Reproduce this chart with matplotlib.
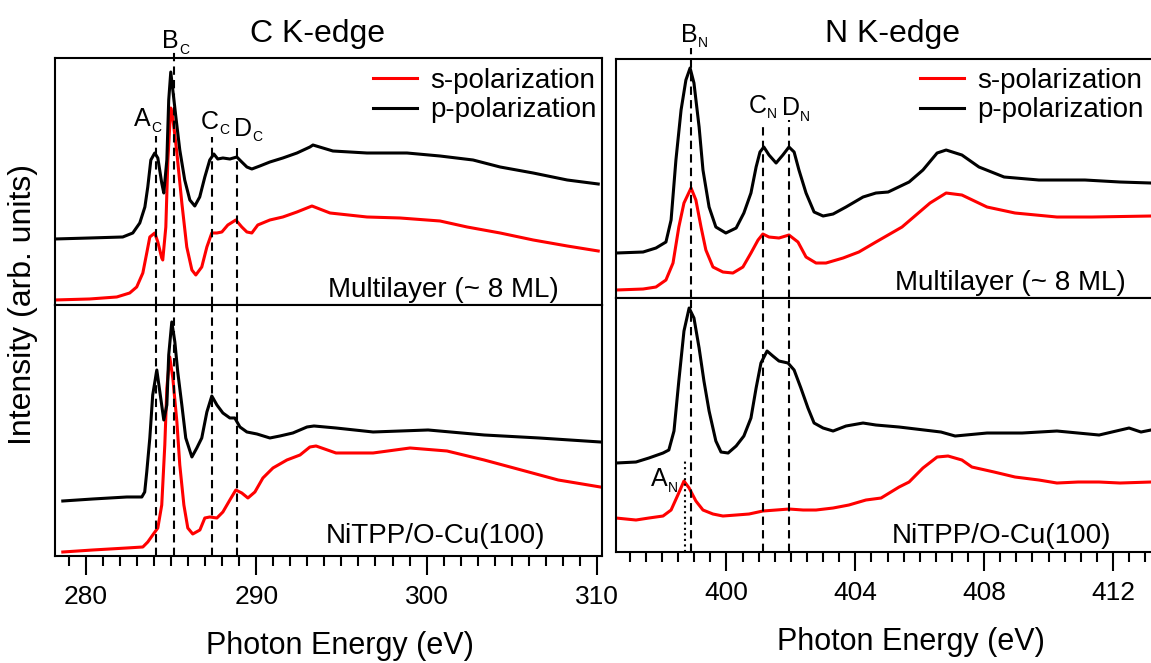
import matplotlib
matplotlib.use('Agg')
import matplotlib.pyplot as plt
import matplotlib.transforms as mtransforms
from matplotlib.ticker import MultipleLocator

plt.rcParams['font.family'] = ['Liberation Sans', 'DejaVu Sans']

# ---- C K-edge, multilayer (~8 ML) ----
c_ml_p_x = [278.17, 280.22, 282.16, 282.75, 283.16, 283.46, 283.63, 283.81, 284.04, 284.22,
            284.45, 284.57, 284.75, 284.86, 284.98, 285.10, 285.28, 285.51, 285.80, 286.10,
            286.39, 286.68, 286.98, 287.27, 287.51, 287.74, 288.04, 288.45, 288.86, 289.15,
            289.45, 289.74, 290.21, 290.80, 291.56, 292.39, 293.15, 293.33, 294.50, 296.50,
            298.85, 300.79, 302.73, 304.32, 306.26, 308.26, 310.08]
c_ml_p = [6.6, 6.7, 6.8, 7.2, 8.2, 9.8, 11.8, 14.5, 15.2, 14.7,
          12.2, 11.2, 14.5, 20.5, 23.3, 21.5, 18.8, 15.5, 12.5, 10.5,
          9.9, 10.8, 12.8, 14.5, 15.1, 14.6, 14.7, 14.6, 14.8, 14.3,
          13.8, 13.6, 13.9, 14.3, 14.7, 15.2, 15.8, 16.0, 15.4, 15.2,
          15.2, 14.9, 14.5, 13.8, 13.2, 12.5, 12.1]
c_ml_s_x = [278.17, 280.22, 281.81, 282.57, 282.98, 283.34, 283.57, 283.75, 284.04, 284.22,
            284.45, 284.51, 284.69, 284.81, 284.98, 285.10, 285.34, 285.63, 285.92, 286.22,
            286.45, 286.80, 287.10, 287.39, 287.69, 287.98, 288.33, 288.80, 289.15, 289.45,
            289.74, 290.09, 290.80, 291.56, 292.39, 293.27, 294.33, 296.50, 298.44, 300.79,
            302.38, 304.32, 306.26, 308.26, 310.08]
c_ml_s = [0.5, 0.6, 0.8, 1.2, 1.8, 3.2, 5.2, 6.8, 7.2, 6.3,
          4.7, 4.5, 7.8, 14.5, 19.7, 18.7, 15.2, 10.2, 5.8, 3.5,
          3.0, 3.8, 5.8, 7.2, 7.2, 7.3, 8.0, 8.5, 7.8, 7.3,
          7.2, 8.0, 8.5, 8.8, 9.3, 9.9, 9.2, 8.8, 8.7, 8.4,
          7.8, 7.2, 6.5, 5.9, 5.4]

# ---- C K-edge, NiTPP/O-Cu(100) ----
c_mono_p_x = [278.64, 280.40, 282.40, 283.28, 283.45, 283.57, 283.75, 283.92, 284.16, 284.34,
              284.57, 284.75, 284.86, 285.04, 285.22, 285.39, 285.63, 285.86, 286.22, 286.51,
              286.80, 287.10, 287.39, 287.69, 288.04, 288.45, 288.74, 289.04, 289.45, 290.04,
              290.80, 291.39, 292.15, 292.98, 293.39, 294.68, 296.86, 300.09, 303.38, 306.61,
              310.20]
c_mono_p = [5.5, 5.7, 5.9, 5.9, 6.4, 8.4, 11.8, 16.1, 18.6, 16.4,
            13.6, 15.1, 20.1, 23.4, 21.4, 18.4, 15.1, 11.8, 9.9, 10.8,
            11.8, 14.4, 16.0, 15.1, 14.3, 13.8, 13.8, 12.9, 12.4, 12.2,
            11.8, 12.0, 12.3, 12.9, 13.0, 12.8, 12.4, 12.6, 12.1, 11.8,
            11.4]
c_mono_s_x = [278.64, 280.40, 282.40, 283.34, 283.63, 283.92, 284.22, 284.45, 284.63, 284.75,
              284.92, 285.10, 285.34, 285.51, 285.75, 285.98, 286.27, 286.69, 286.98, 287.27,
              287.69, 288.04, 288.45, 288.80, 289.15, 289.51, 289.92, 290.39, 290.98, 291.80,
              292.57, 293.15, 293.51, 294.68, 296.86, 299.03, 301.20, 303.38, 305.56, 307.73,
              310.20]
c_mono_s = [0.4, 0.6, 0.8, 0.9, 1.4, 2.1, 2.8, 5.1, 11.1, 16.8,
            19.9, 17.8, 13.4, 9.1, 5.1, 2.8, 2.2, 2.6, 3.8, 3.9,
            3.8, 4.4, 5.6, 6.6, 6.3, 5.8, 6.4, 7.8, 8.8, 9.6,
            10.1, 10.9, 11.0, 10.3, 10.3, 10.8, 10.5, 9.6, 8.6, 7.6,
            6.9]

# ---- N K-edge, multilayer (~8 ML) ----
n_ml_p_x = [396.57, 397.41, 397.81, 398.12, 398.28, 398.43, 398.59, 398.74, 398.87, 398.99,
            399.15, 399.27, 399.46, 399.67, 399.98, 400.30, 400.54, 400.76, 400.92, 401.04,
            401.16, 401.32, 401.54, 401.75, 401.94, 402.10, 402.25, 402.47, 402.72, 403.00,
            403.31, 403.71, 404.24, 404.64, 405.02, 405.67, 406.10, 406.54, 406.82, 407.31,
            407.84, 408.62, 409.70, 411.13, 412.22, 413.18]
n_ml_p = [4.5, 4.6, 5.0, 5.6, 7.8, 13.8, 18.8, 21.8, 23.0, 21.5,
          17.1, 12.8, 9.1, 7.1, 6.5, 7.0, 8.5, 10.5, 13.1, 14.6,
          15.1, 14.3, 13.5, 14.3, 15.1, 14.6, 12.8, 10.5, 8.6, 8.2,
          8.4, 9.1, 10.1, 10.5, 10.6, 11.6, 12.8, 14.5, 14.8, 14.3,
          13.1, 12.1, 11.8, 11.8, 11.6, 11.5]
n_ml_s_x = [396.57, 397.41, 397.81, 398.12, 398.34, 398.52, 398.68, 398.90, 399.05, 399.21,
            399.36, 399.58, 399.89, 400.20, 400.51, 400.76, 400.98, 401.13, 401.32, 401.63,
            401.94, 402.22, 402.47, 402.78, 403.09, 403.62, 404.11, 404.64, 405.45, 406.32,
            406.82, 407.31, 408.09, 408.96, 410.26, 411.35, 413.18]
n_ml_s = [0.8, 0.9, 1.1, 1.8, 3.5, 7.1, 9.5, 11.0, 9.8, 7.1,
          4.8, 3.1, 2.6, 2.5, 3.1, 4.5, 5.8, 6.4, 6.1, 6.0,
          6.3, 5.6, 4.1, 3.5, 3.5, 4.0, 4.6, 5.6, 7.1, 9.5,
          10.5, 10.3, 9.1, 8.5, 8.1, 8.1, 8.2]

# ---- N K-edge, NiTPP/O-Cu(100) ----
n_mono_p_x = [396.57, 397.19, 397.59, 398.03, 398.21, 398.37, 398.52, 398.68, 398.84, 398.99,
              399.15, 399.30, 399.46, 399.67, 399.83, 400.05, 400.30, 400.54, 400.76, 400.92,
              401.07, 401.26, 401.44, 401.63, 401.91, 402.10, 402.31, 402.53, 402.72, 403.00,
              403.31, 403.71, 404.24, 404.64, 405.36, 406.66, 407.10, 408.09, 409.18, 410.26,
              411.57, 412.50, 412.87, 413.18]
n_mono_p = [8.9, 9.0, 9.4, 9.9, 10.2, 12.1, 17.1, 22.1, 24.4, 23.4,
            20.4, 17.1, 14.1, 11.1, 10.0, 9.9, 10.6, 11.6, 13.4, 16.4,
            18.9, 20.1, 19.6, 19.1, 18.9, 18.2, 16.4, 14.4, 12.9, 12.4,
            12.1, 12.6, 12.9, 12.7, 12.5, 12.0, 11.6, 11.9, 11.9, 12.1,
            11.7, 12.4, 12.0, 12.2]
n_mono_s_x = [396.57, 397.19, 397.59, 398.03, 398.28, 398.49, 398.68, 398.84, 399.05, 399.27,
              399.58, 399.89, 400.30, 400.70, 401.13, 401.54, 401.94, 402.38, 402.78, 403.31,
              403.80, 404.33, 404.80, 405.36, 405.67, 406.10, 406.54, 406.88, 407.31, 407.62,
              408.31, 408.96, 409.70, 410.26, 410.92, 411.57, 412.22, 413.18]
n_mono_s = [3.4, 3.2, 3.4, 3.6, 4.2, 5.7, 7.1, 6.4, 5.1, 4.2,
            3.8, 3.6, 3.7, 3.8, 4.1, 4.2, 4.3, 4.2, 4.2, 4.4,
            4.7, 5.2, 5.4, 6.5, 7.0, 8.4, 9.5, 9.6, 9.2, 8.5,
            8.0, 7.5, 7.2, 6.9, 7.0, 7.0, 6.9, 7.0]

# peak positions (eV)
c_peaks = [284.14, 285.16, 287.40, 288.86]
c_names = ['A', 'B', 'C', 'D']
n_peaks = [398.91, 401.13, 401.94]
n_names = ['B', 'C', 'D']
n_a_peak = 398.71

red = '#ff0000'
lw_curve = 2.2
dash = (0, (4, 2.5))

fig = plt.figure(figsize=(11.51, 6.63), dpi=100)
ax_c_top = fig.add_axes([0.0476, 0.5400, 0.4757, 0.3725])
ax_c_bot = fig.add_axes([0.0476, 0.1614, 0.4757, 0.3786])
ax_n_top = fig.add_axes([0.5352, 0.5505, 0.4726, 0.3605])
ax_n_bot = fig.add_axes([0.5352, 0.1674, 0.4726, 0.3831])

ax_c_top.plot(c_ml_s_x, c_ml_s, color=red, lw=lw_curve, label='s-polarization')
ax_c_top.plot(c_ml_p_x, c_ml_p, color='black', lw=lw_curve, label='p-polarization')
ax_c_bot.plot(c_mono_s_x, c_mono_s, color=red, lw=lw_curve)
ax_c_bot.plot(c_mono_p_x, c_mono_p, color='black', lw=lw_curve)
ax_n_top.plot(n_ml_s_x, n_ml_s, color=red, lw=lw_curve, label='s-polarization')
ax_n_top.plot(n_ml_p_x, n_ml_p, color='black', lw=lw_curve, label='p-polarization')
ax_n_bot.plot(n_mono_s_x, n_mono_s, color=red, lw=lw_curve)
ax_n_bot.plot(n_mono_p_x, n_mono_p, color='black', lw=lw_curve)

ax_c_top.set_ylim(0, 24.7)
ax_c_bot.set_ylim(0, 25.1)
ax_n_top.set_ylim(0, 23.9)
ax_n_bot.set_ylim(0, 25.4)
for ax in (ax_c_top, ax_c_bot):
    ax.set_xlim(278.17, 310.32)
for ax in (ax_n_top, ax_n_bot):
    ax.set_xlim(396.57, 413.46)

for ax in (ax_c_top, ax_c_bot, ax_n_top, ax_n_bot):
    for sp in ax.spines.values():
        sp.set_linewidth(1.5)
    ax.tick_params(left=False, labelleft=False)
for ax in (ax_c_top, ax_n_top):
    ax.tick_params(bottom=False, labelbottom=False)
for ax in (ax_c_bot, ax_n_bot):
    ax.tick_params(which='major', direction='out', length=14, width=1.5,
                   labelsize=19, pad=7)
    ax.tick_params(which='minor', direction='out', length=7, width=1.5)
ax_c_bot.xaxis.set_major_locator(MultipleLocator(10))
ax_c_bot.xaxis.set_minor_locator(MultipleLocator(1))
ax_n_bot.xaxis.set_major_locator(MultipleLocator(4))
ax_n_bot.xaxis.set_minor_locator(MultipleLocator(0.5))
ax_c_top.set_xticks([])
ax_n_top.set_xticks([])


def peak_label(ax, x, y, y_sub, letter, sub):
    # big letter ending at x, small subscript right after it
    tr = mtransforms.blended_transform_factory(ax.transData, ax.transAxes)
    ax.text(x, y, letter, transform=tr, fontsize=18, ha='right', va='baseline')
    ax.text(x, y_sub, sub, transform=tr, fontsize=10, ha='left', va='baseline')


# dashed peak markers (reach above the top panels up to the labels)
c_line_top = [0.684, 1.024, 0.680, 0.636]
c_lab_x = [283.81, 285.46, 287.80, 289.74]
c_lab_y = [0.725, 1.040, 0.713, 0.684]
c_sub_y = [0.700, 1.016, 0.692, 0.664]
for e, name, top, lx, ly, sy in zip(c_peaks, c_names, c_line_top, c_lab_x, c_lab_y, c_sub_y):
    ax_c_top.axvline(e, ymin=0, ymax=top, color='black', lw=1.5, ls=dash,
                     clip_on=False, zorder=5)
    ax_c_bot.axvline(e, color='black', lw=1.5, ls=dash, zorder=5)
    peak_label(ax_c_top, lx, ly, sy, name, 'C')

n_line_top = [1.046, 0.732, 0.745]
n_lab_x = [399.11, 401.26, 402.28]
n_lab_y = [1.071, 0.774, 0.766]
n_sub_y = [1.050, 0.753, 0.741]
for e, name, top, lx, ly, sy in zip(n_peaks, n_names, n_line_top, n_lab_x, n_lab_y, n_sub_y):
    ax_n_top.axvline(e, ymin=0, ymax=top, color='black', lw=1.5, ls=dash,
                     clip_on=False, zorder=5)
    ax_n_bot.axvline(e, color='black', lw=1.5, ls=dash, zorder=5)
    peak_label(ax_n_top, lx, ly, sy, name, 'N')

ax_n_bot.axvline(n_a_peak, ymin=0, ymax=0.362, color='black', lw=1.5, ls=':', zorder=5)
peak_label(ax_n_bot, 398.18, 0.260, 0.236, 'A', 'N')

# sample labels
ax_c_top.text(0.499, 0.032, 'Multilayer (~ 8 ML)', transform=ax_c_top.transAxes,
              fontsize=20, ha='left', va='baseline')
ax_n_top.text(0.513, 0.033, 'Multilayer (~ 8 ML)', transform=ax_n_top.transAxes,
              fontsize=20, ha='left', va='baseline')
ax_c_bot.text(0.494, 0.052, 'NiTPP/O-Cu(100)', transform=ax_c_bot.transAxes,
              fontsize=20, ha='left', va='baseline')
ax_n_bot.text(0.507, 0.035, 'NiTPP/O-Cu(100)', transform=ax_n_bot.transAxes,
              fontsize=20, ha='left', va='baseline')

# legends
for ax, x0 in ((ax_c_top, 0.324), (ax_n_top, 0.799)):
    ax.legend(loc='upper left', bbox_to_anchor=(x0, 0.8975),
              bbox_transform=fig.transFigure, frameon=False, fontsize=20,
              handlelength=1.6, handletextpad=0.48, labelspacing=0.12,
              borderpad=0, borderaxespad=0)

fig.text(0.276, 0.9367, 'C K-edge', fontsize=23, ha='center', va='baseline')
fig.text(0.775, 0.9367, 'N K-edge', fontsize=23, ha='center', va='baseline')
fig.text(0.295, 0.014, 'Photon Energy (eV)', fontsize=22, ha='center', va='baseline')
fig.text(0.7915, 0.0196, 'Photon Energy (eV)', fontsize=22, ha='center', va='baseline')
fig.text(0.0196, 0.54, 'Intensity (arb. units)', fontsize=23, rotation=90,
         ha='center', va='center')

fig.savefig('out.png', dpi=100)
